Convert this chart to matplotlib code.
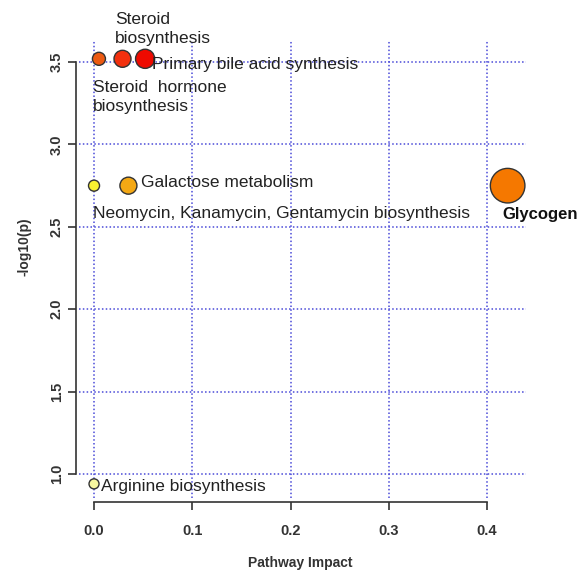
import matplotlib.pyplot as plt

plt.rcParams['font.family'] = ['Liberation Sans', 'DejaVu Sans']

# pathway data
pathways = ["Steroid hormone\nbiosynthesis", "Steroid\nbiosynthesis",
            "Primary bile acid synthesis", "Neomycin, Kanamycin, Gentamycin biosynthesis",
            "Galactose metabolism", "Glycogen", "Arginine biosynthesis"]
impact = [0.005, 0.029, 0.052, 0.0, 0.035, 0.421, 0.0]
logp = [3.52, 3.52, 3.52, 2.75, 2.75, 2.75, 0.94]
node_size = [88, 150, 190, 63, 150, 620, 52]
node_color = ["#EC5A12", "#F2300E", "#EE0A00", "#F8F030", "#F4A814", "#F57800", "#F8F8A0"]

fig = plt.figure(figsize=(5.8, 5.71), dpi=100)
ax = fig.add_axes([0.1362, 0.1278, 0.7707, 0.8021])

ax.scatter(impact, logp, s=node_size, c=node_color, edgecolors="#333333",
           linewidths=1, zorder=3, clip_on=False)

# labels
txt = dict(fontsize=12.5, color="#222222", va="center", ha="left", zorder=4)
ax.text(0.0214, 3.70, pathways[1], linespacing=1.35, **txt)
ax.text(0.059, 3.488, pathways[2], **txt)
ax.text(-0.001, 3.287, "Steroid  hormone\nbiosynthesis", linespacing=1.35, **txt)
ax.text(0.0478, 2.768, pathways[4], **txt)
ax.text(-0.001, 2.579, pathways[3], **txt)
ax.text(0.4155, 2.573, pathways[5], fontweight="bold",
        **{**txt, "fontsize": 12, "color": "#111111"})
ax.text(0.0071, 0.921, pathways[6], **txt)

ax.set_xlim(-0.0153, 0.4397)
ax.set_ylim(0.854, 3.634)
ax.set_xticks([0.0, 0.1, 0.2, 0.3, 0.4])
ax.set_yticks([1.0, 1.5, 2.0, 2.5, 3.0, 3.5])
ax.set_xticklabels(["0.0", "0.1", "0.2", "0.3", "0.4"])
ax.set_yticklabels(["1.0", "1.5", "2.0", "2.5", "3.0", "3.5"])

ax.grid(True, color="#4A4AD8", linestyle=(0, (1, 1.5)), linewidth=1.1, zorder=1)
ax.set_axisbelow(True)

for s in ["top", "right"]:
    ax.spines[s].set_visible(False)
ax.spines["bottom"].set_bounds(0.0, 0.4)
ax.spines["left"].set_bounds(1.0, 3.5)
ax.spines["bottom"].set_position(("outward", 3))
ax.spines["left"].set_position(("outward", 2))
for s in ["bottom", "left"]:
    ax.spines[s].set_linewidth(1.2)
    ax.spines[s].set_color("#333333")

ax.tick_params(direction="out", length=6, width=1.2, color="#333333",
               labelsize=10.5, labelcolor="#333333")
ax.tick_params(axis="x", pad=10)
ax.tick_params(axis="y", pad=3, labelrotation=90)
for lab in ax.get_yticklabels():
    lab.set_va("center")
for lab in ax.get_xticklabels() + ax.get_yticklabels():
    lab.set_fontweight("bold")

ax.set_xlabel("Pathway Impact", fontsize=10, color="#333333", fontweight="bold")
ax.set_ylabel("-log10(p)", fontsize=10, color="#333333", fontweight="bold")
ax.xaxis.set_label_coords(0.494, -0.127)
ax.yaxis.set_label_coords(-0.107, 0.548)

fig.savefig("out.png", dpi=100)
